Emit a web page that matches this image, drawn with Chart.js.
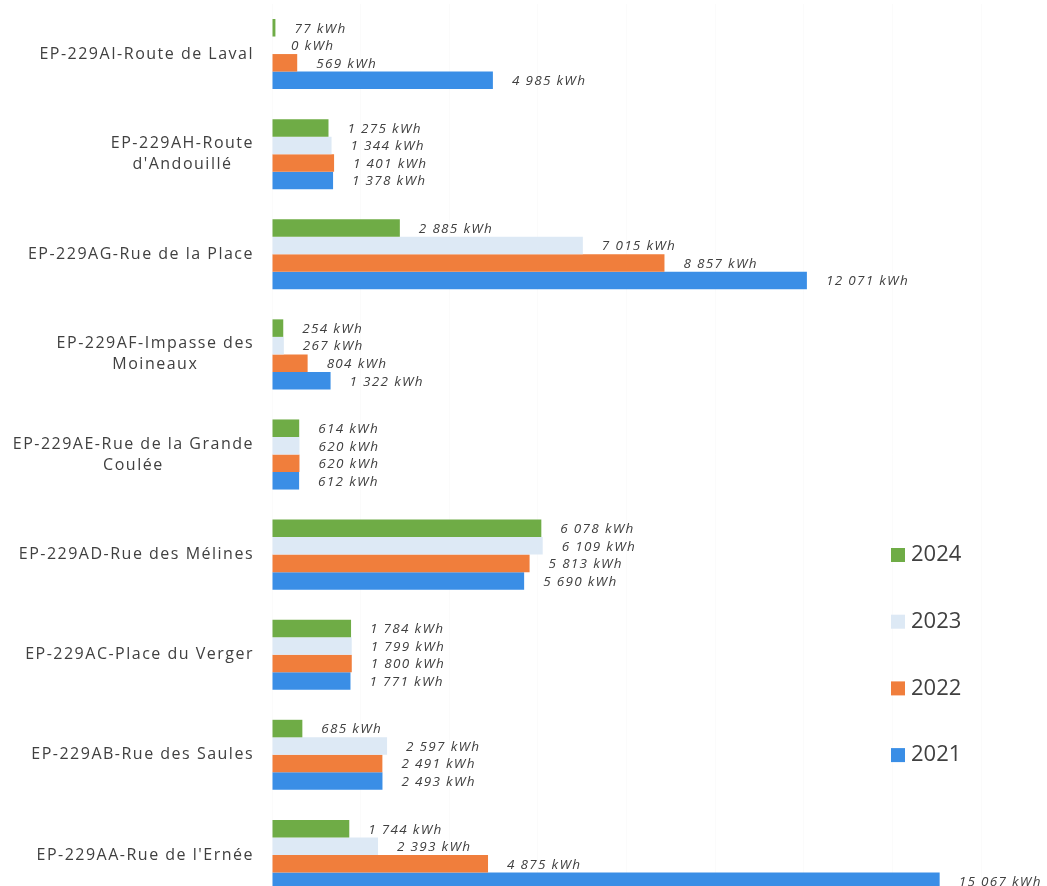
<!DOCTYPE html>
<html>
<head>
<meta charset="utf-8">
<script src="https://cdn.jsdelivr.net/npm/chart.js@4.4.1/dist/chart.umd.min.js"></script>
<style>
    html, body { margin: 0; padding: 0; background: #fff; overflow: hidden; }
    #wrap { position: relative; width: 1047px; height: 905px; }
</style>
</head>
<body>
<div id="wrap"><canvas id="conso_chart"></canvas></div>
<script>
// libellés des points d'éclairage
const categories = [
    'EP-229AI-Route de Laval',
    ['EP-229AH-Route', "d'Andouillé"],
    'EP-229AG-Rue de la Place',
    ['EP-229AF-Impasse des', 'Moineaux'],
    ['EP-229AE-Rue de la Grande', 'Coulée'],
    'EP-229AD-Rue des Mélines',
    'EP-229AC-Place du Verger',
    'EP-229AB-Rue des Saules',
    "EP-229AA-Rue de l'Ernée"
];

// consommations en kWh
const values2024 = [77, 1275, 2885, 254, 614, 6078, 1784, 685, 1744];
const values2023 = [0, 1344, 7015, 267, 620, 6109, 1799, 2597, 2393];
const values2022 = [569, 1401, 8857, 804, 620, 5813, 1800, 2491, 4875];
const values2021 = [4985, 1378, 12071, 1322, 612, 5690, 1771, 2493, 15067];

const seriesLabels = ['2024', '2023', '2022', '2021'];
const seriesColors = ['#6fac46', '#dde9f5', '#f07e3c', '#3a8ee6'];

const axisMax = 16000;
const gridStep = 2000;

function fmtKwh(v) {
    return String(v).replace(/\B(?=(\d{3})+(?!\d))/g, ' ') + ' kWh';
}

const textColor = '#404040';

// dessine libellés d'axe, valeurs et légende
const drawPlugin = {
    id: 'drawPlugin',
    afterDatasetsDraw(chart) {
        const ctx = chart.ctx;
        const yScale = chart.scales.y;

        ctx.save();
        ctx.fillStyle = textColor;

        // libellés de catégories (bloc aligné à droite, lignes centrées)
        ctx.font = '16px "Open Sans"';
        ctx.letterSpacing = '1.5px';
        ctx.textBaseline = 'middle';
        ctx.textAlign = 'center';
        chart.data.labels.forEach((lab, i) => {
            const lines = Array.isArray(lab) ? lab : [lab];
            const y = yScale.getPixelForTick(i);
            let maxW = 0;
            lines.forEach(l => { maxW = Math.max(maxW, ctx.measureText(l).width); });
            const cx = 254 - maxW / 2;
            lines.forEach((l, j) => {
                ctx.fillText(l, cx, y + (j - (lines.length - 1) / 2) * 21);
            });
        });

        // valeurs au bout des barres
        ctx.font = 'italic 13.5px "Open Sans"';
        ctx.letterSpacing = '1.3px';
        ctx.textAlign = 'left';
        chart.data.datasets.forEach((ds, d) => {
            const meta = chart.getDatasetMeta(d);
            meta.data.forEach((bar, i) => {
                ctx.fillText(fmtKwh(ds.data[i]), bar.x + 19, bar.y + 1);
            });
        });

        // légende
        ctx.font = '22px "Open Sans"';
        ctx.letterSpacing = '0px';
        chart.data.datasets.forEach((ds, d) => {
            const y = 555 + d * 66.7;
            ctx.fillStyle = ds.backgroundColor;
            ctx.fillRect(891, y - 7, 14, 14);
            ctx.fillStyle = textColor;
            ctx.fillText(ds.label, 911, y);
        });
        ctx.restore();
    }
};

function fnConsoChart() {
    const allValues = [values2024, values2023, values2022, values2021];
    const datasets = allValues.map((vals, k) => ({
        label: seriesLabels[k],
        data: vals,
        backgroundColor: seriesColors[k],
        borderWidth: 0,
        categoryPercentage: 0.7,
        barPercentage: 1.0
    }));

    const config = {
        type: 'bar',
        data: {
            labels: categories,
            datasets: datasets
        },
        options: {
            indexAxis: 'y',
            responsive: true,
            maintainAspectRatio: false,
            animation: false,
            layout: {
                padding: { top: 4, right: 66, left: 0, bottom: 0 }
            },
            scales: {
                x: {
                    min: 0,
                    max: axisMax,
                    ticks: { display: false, stepSize: gridStep },
                    grid: { color: '#fbfbfb', drawTicks: false },
                    border: { display: false }
                },
                y: {
                    ticks: { display: false },
                    grid: { display: false },
                    border: { display: false },
                    afterFit: function (scale) { scale.width = 272; }
                }
            },
            plugins: {
                legend: { display: false },
                tooltip: { enabled: false }
            }
        },
        plugins: [drawPlugin]
    };

    new Chart(document.getElementById('conso_chart'), config);
}

fnConsoChart();
</script>
</body>
</html>
